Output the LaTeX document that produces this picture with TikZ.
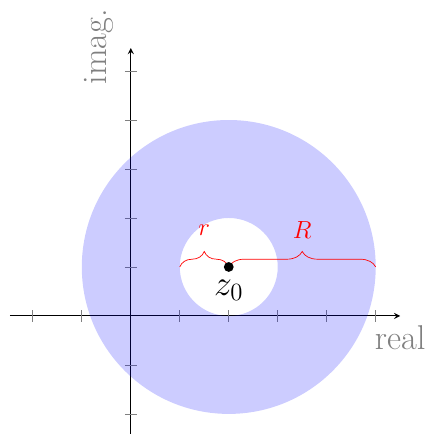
\documentclass[tikz,border=0pt]{standalone}
\usepackage{amsmath}
\usepackage{tikz}
\usetikzlibrary{positioning, arrows.meta, decorations.pathreplacing}

\begin{document}
\begin{tikzpicture}[>=stealth]
    \tikzstyle{axisline} = [semithick,->]
    \tikzstyle{axistick} = [gray, thin]
    \tikzstyle{annulus} = [fill=blue, fill opacity=0.2, even odd rule]
    \tikzstyle{redbrace} = [red, decorate, decoration={brace, amplitude=9pt}]
    \tikzstyle{axislabel} = [gray, font=\fontsize{20}{24}\selectfont]

    \useasboundingbox (-2.67,-2.41) rectangle (6.06,6.45);

    \coordinate (xstart) at (-2.47,0);
    \coordinate (xend) at (5.5,0);
    \coordinate (ystart) at (0,-2.45);
    \coordinate (yend) at (0,5.47);

    \draw [axisline] (xstart) -- (xend);
    \draw [axisline] (ystart) -- (yend);
    \foreach \t in {-2,-1,1,2,3,4,5} {
        \draw [axistick] (\t,-0.12) -- (\t,0.12);
        \draw [axistick] (-0.12,\t) -- (0.12,\t);
    }
    \node [axislabel, below=2pt] (reallabel) at (xend) {real};
    \node [axislabel, rotate=90, anchor=south] (imaglabel) at (-0.22,5.5) {imag.};

    % the annulus around z0
    \coordinate (z0) at (2,1);
    \fill [annulus] (z0) circle (3) (z0) circle (1);

    \coordinate (rstart) at (1,1);
    \coordinate (Rend) at (5,1);
    \draw [redbrace] (rstart) -- (z0);
    \draw [redbrace] (z0) -- (Rend);
    \node [red, font=\Large] (rlabel) at (1.5,1.76) {$r$};
    \node [red, font=\Large] (Rlabel) at (3.5,1.76) {$R$};

    \node [circle, fill, inner sep=0pt, minimum size=0.2cm] (dot) at (z0) {};
    \node [font=\fontsize{20}{24}\selectfont, below=1pt of dot] (zlabel) {$z_0$};
\end{tikzpicture}
\end{document}
